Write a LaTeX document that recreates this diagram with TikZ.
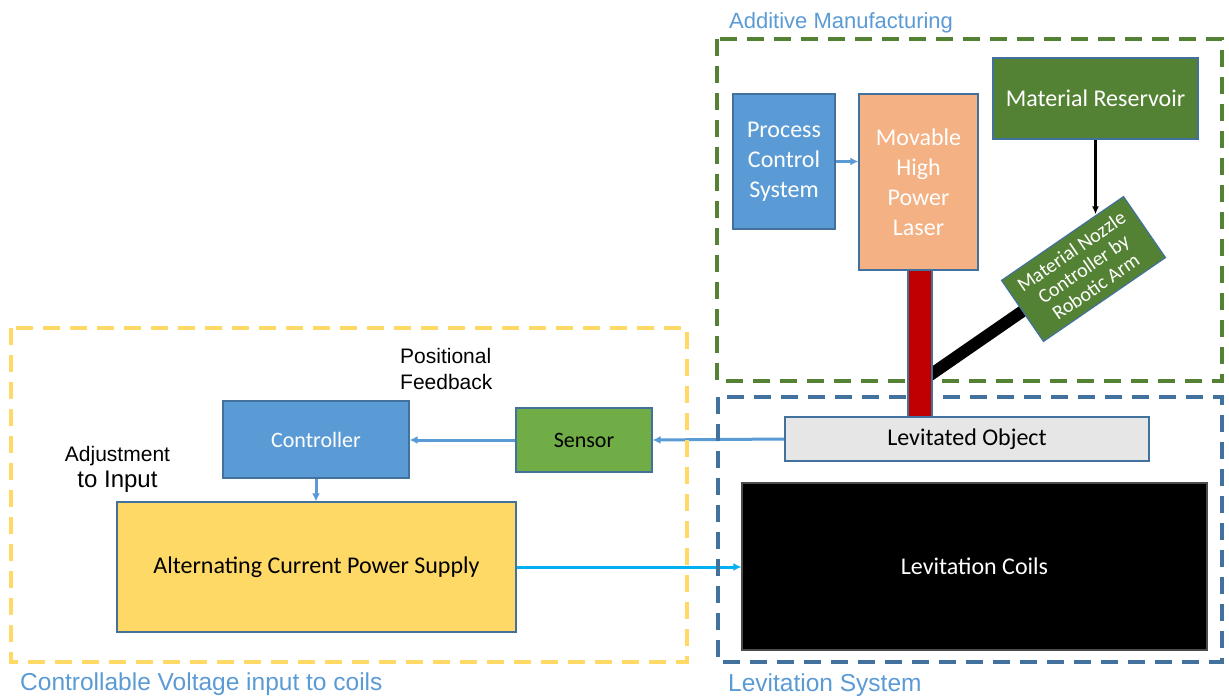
\documentclass[tikz,border=0pt]{standalone}
\usepackage{fontspec}
\setmainfont{Liberation Sans}
\newfontfamily\boxfont{Carlito}
\usetikzlibrary{calc,arrows.meta}

\definecolor{paleblue}{HTML}{5B9BD5}
\definecolor{edgeblue}{HTML}{41719C}
\definecolor{laserorange}{HTML}{F4B183}
\definecolor{leafgreen}{HTML}{548235}
\definecolor{sensgreen}{HTML}{70AD47}
\definecolor{supplyyellow}{HTML}{FFD966}
\definecolor{objgray}{HTML}{E7E6E6}
\definecolor{beamred}{HTML}{C00000}
\definecolor{wireblue}{HTML}{00B0F0}

\pgfdeclarelayer{back}
\pgfsetlayers{back,main}

\begin{document}
\begin{tikzpicture}[x=1pt, y=-1pt,
  block/.style={draw=edgeblue, line width=1.2pt, inner sep=0pt, align=center, font=\boxfont\fontsize{24}{30}\selectfont},
  small/.style={font=\boxfont\fontsize{22}{26}\selectfont},
  frame/.style={line width=4pt, dash pattern=on 17pt off 10pt},
  title/.style={text=paleblue, inner sep=0pt, anchor=base west, font=\fontsize{24.5}{28}\selectfont},
  note/.style={inner sep=0pt, font=\fontsize{21}{26}\selectfont},
  feed/.style={-{Latex[length=8pt,width=8pt]}, line width=3pt, draw=paleblue}]

\useasboundingbox (0,0) rectangle (1229,698);
\begin{pgfonlayer}{back}
\fill[white] (0,0) rectangle (1229,698);
\end{pgfonlayer}

\draw[frame, draw=leafgreen] (717,39) rectangle (1222,381);
\draw[frame, draw=edgeblue] (718,397) rectangle (1222,662);
\draw[frame, draw=supplyyellow] (11,328) rectangle (687,662);

\node (amtitle) at (729,29) [title, font=\fontsize{22}{26}\selectfont] {Additive Manufacturing};
\node (levtitle) at (728,691) [title] {Levitation System};
\node (cvtitle) at (20,690) [title] {Controllable Voltage input to coils};

\coordinate (nozzlemid) at (1083.5,269);
\coordinate (armfoot) at (920,382);
\draw[line width=12pt] (armfoot) -- (nozzlemid);

\node (pcs) at (784,161.5) [block, fill=paleblue, text=white, minimum width=102pt, minimum height=135pt] {Process\\Control\\System};
\node (laser) at (918.5,182) [block, fill=laserorange, text=white, minimum width=119pt, minimum height=176pt] {Movable\\High\\Power\\Laser};
\node (reservoir) at (1095.5,98.5) [block, fill=leafgreen, text=white, minimum width=205pt, minimum height=81pt] {Material Reservoir};
\node (nozzle) at (nozzlemid) [block, fill=leafgreen, text=white, minimum width=148pt, minimum height=74pt, rotate=34.5, font=\boxfont\fontsize{20}{21.5}\selectfont] {Material Nozzle\\Controller by\\Robotic Arm};
\node (beam) at (920,343.5) [block, fill=beamred, minimum width=24pt, minimum height=147pt] {};
\node (lobj) at (967,439) [block, fill=objgray, minimum width=364pt, minimum height=44pt] {Levitated Object};
\node (coils) at (974.5,566.5) [block, draw=black!70, fill=black, text=white, minimum width=465pt, minimum height=167pt] {Levitation Coils};

\node (ctrl) at (316,439.5) [block, small, fill=paleblue, text=white, minimum width=186pt, minimum height=77pt] {Controller};
\node (sensor) at (584,440) [block, small, fill=sensgreen, minimum width=136pt, minimum height=64pt] {Sensor};
\node (psu) at (316.5,567) [block, fill=supplyyellow, minimum width=399pt, minimum height=130pt] {Alternating Current Power Supply};

\node (posfb) at (400,389) [note, anchor=base west, align=left] {Positional\\Feedback};
\node (adjust) at (117.5,487) [note, anchor=base, align=center] {\fontsize{21}{24}\selectfont Adjustment\\\fontsize{24}{29}\selectfont to Input};

\coordinate (drop) at ($(nozzle.north west)!0.78!(nozzle.north east)$);
\begin{pgfonlayer}{back}
\draw[-{Latex[length=8pt,width=7pt]}, line width=2.2pt] (reservoir.south) -- (reservoir.south |- drop);
\draw[feed] (pcs.east) -- (pcs.east -| laser.west);
\draw[feed] (lobj.west) -- (sensor.east);
\draw[feed] (sensor.west) -- (sensor.west -| ctrl.east);
\draw[feed] (ctrl.south) -- (ctrl.south |- psu.north);
\draw[feed, draw=wireblue] (psu.east) -- (psu.east -| coils.west);
\end{pgfonlayer}
\end{tikzpicture}
\end{document}
